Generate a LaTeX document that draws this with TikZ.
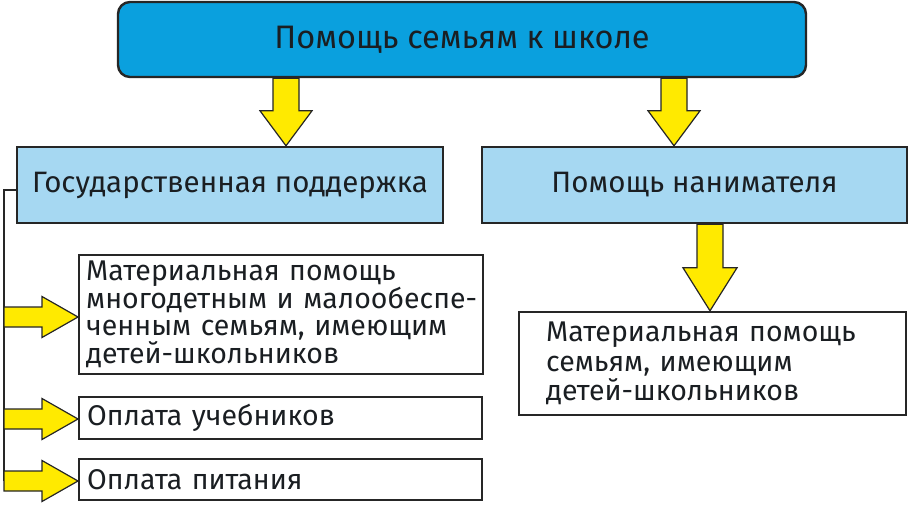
\documentclass[tikz,border=0pt]{standalone}
\usepackage{fontspec}
\setmainfont{Fira Sans}
\usetikzlibrary{calc}
\definecolor{topblue}{RGB}{10,160,222}
\definecolor{lightblue}{RGB}{166,216,242}
\definecolor{arrowyellow}{RGB}{255,234,0}
\definecolor{edgegray}{RGB}{38,38,38}
\definecolor{ink}{RGB}{26,30,34}
\newcommand\vblockarrow[5]{%
  \draw[blockarrow] let \p1=#1, \p2=#2 in
   (\x1-#3,\y1) -- (\x1-#3,\y2+#5) -- (\x1-#4,\y2+#5) -- (\x1,\y2) --
   (\x1+#4,\y2+#5) -- (\x1+#3,\y2+#5) -- (\x1+#3,\y1) -- cycle;}
\newcommand\hblockarrow[5]{%
  \draw[blockarrow] let \p1=#1, \p2=#2 in
   (\x1,\y1+#3) -- (\x2-#5,\y1+#3) -- (\x2-#5,\y1+#4) -- (\x2,\y1) --
   (\x2-#5,\y1-#4) -- (\x2-#5,\y1-#3) -- (\x1,\y1-#3) -- cycle;}
\tikzset{
  boxbase/.style={draw=edgegray, line width=2.4pt, text=ink, inner sep=0pt, font=\fontsize{29.5}{27.5}\selectfont},
  headbox/.style={boxbase, fill=topblue, rounded corners=12pt, font=\fontsize{32.5}{32}\selectfont},
  subbox/.style={boxbase, fill=lightblue},
  itembox/.style={boxbase, fill=white, align=left, inner xsep=7pt, font=\fontsize{28.5}{27.5}\selectfont},
  blockarrow/.style={fill=arrowyellow, draw=edgegray, line width=1.2pt, line join=miter},
  bracket/.style={draw=edgegray, line width=2pt}
}
\begin{document}
\begin{tikzpicture}[x=1pt, y=-1pt]
\useasboundingbox (0,0) rectangle (909,505);
\fill[white] (0,0) rectangle (909,505);
% coordinates
\coordinate (a1) at (286,0);
\coordinate (a2) at (674,0);
\coordinate (a3) at (710,0);
\coordinate (brtop) at (4,190);
\coordinate (brbot) at (4,481);
\coordinate (h1) at (0,317);
\coordinate (h2) at (0,419);
\coordinate (h3) at (0,481);
% boxes
\node[headbox, minimum width=688pt, minimum height=75pt] (top) at (462,39.5) {Помощь семьям к школе};
\node[subbox, minimum width=426pt, minimum height=76pt] (gov) at (230,185) {Государственная поддержка};
\node[subbox, minimum width=425pt, minimum height=76pt] (emp) at (694.5,185) {Помощь нанимателя};
% bracket line
\draw[bracket] (gov.west |- brtop) -- (brtop) -- (brbot);
\node[itembox, text width=390pt, minimum height=119pt, anchor=west] (m1) at (78,314.5)
  {\mbox{Материальная помощь}\\ \mbox{многодетным и малообеспе-}\\ \mbox{ченным семьям, имеющим}\\ \mbox{детей-школьников}};
\node[itembox, text width=387pt, inner xsep=8pt, minimum height=42pt, anchor=west] (m2) at (78,418) {Оплата учебников};
\node[itembox, text width=387pt, inner xsep=8pt, minimum height=41pt, anchor=west] (m3) at (78,479.5) {Оплата питания};
\node[itembox, text width=333pt, inner xsep=27pt, minimum height=103pt, anchor=west,
  font=\fontsize{28.5}{29.5}\selectfont] (mr) at (518,363.5)
  {\mbox{Материальная помощь}\\ \mbox{семьям, имеющим}\\ \mbox{детей-школьников}};
% block arrows
\vblockarrow{(top.south -| a1)}{(gov.north -| a1)}{13pt}{26pt}{35pt}
\vblockarrow{(top.south -| a2)}{(emp.north -| a2)}{13pt}{26pt}{35pt}
\vblockarrow{(emp.south -| a3)}{(mr.north -| a3)}{13pt}{27pt}{43pt}
\hblockarrow{(brtop |- h1)}{(m1.west |- h1)}{10pt}{20.5pt}{36pt}
\hblockarrow{(brtop |- h2)}{(m2.west |- h2)}{10pt}{20.5pt}{36pt}
\hblockarrow{(brtop |- h3)}{(m3.west |- h3)}{10pt}{20.5pt}{36pt}
\end{tikzpicture}
\end{document}
